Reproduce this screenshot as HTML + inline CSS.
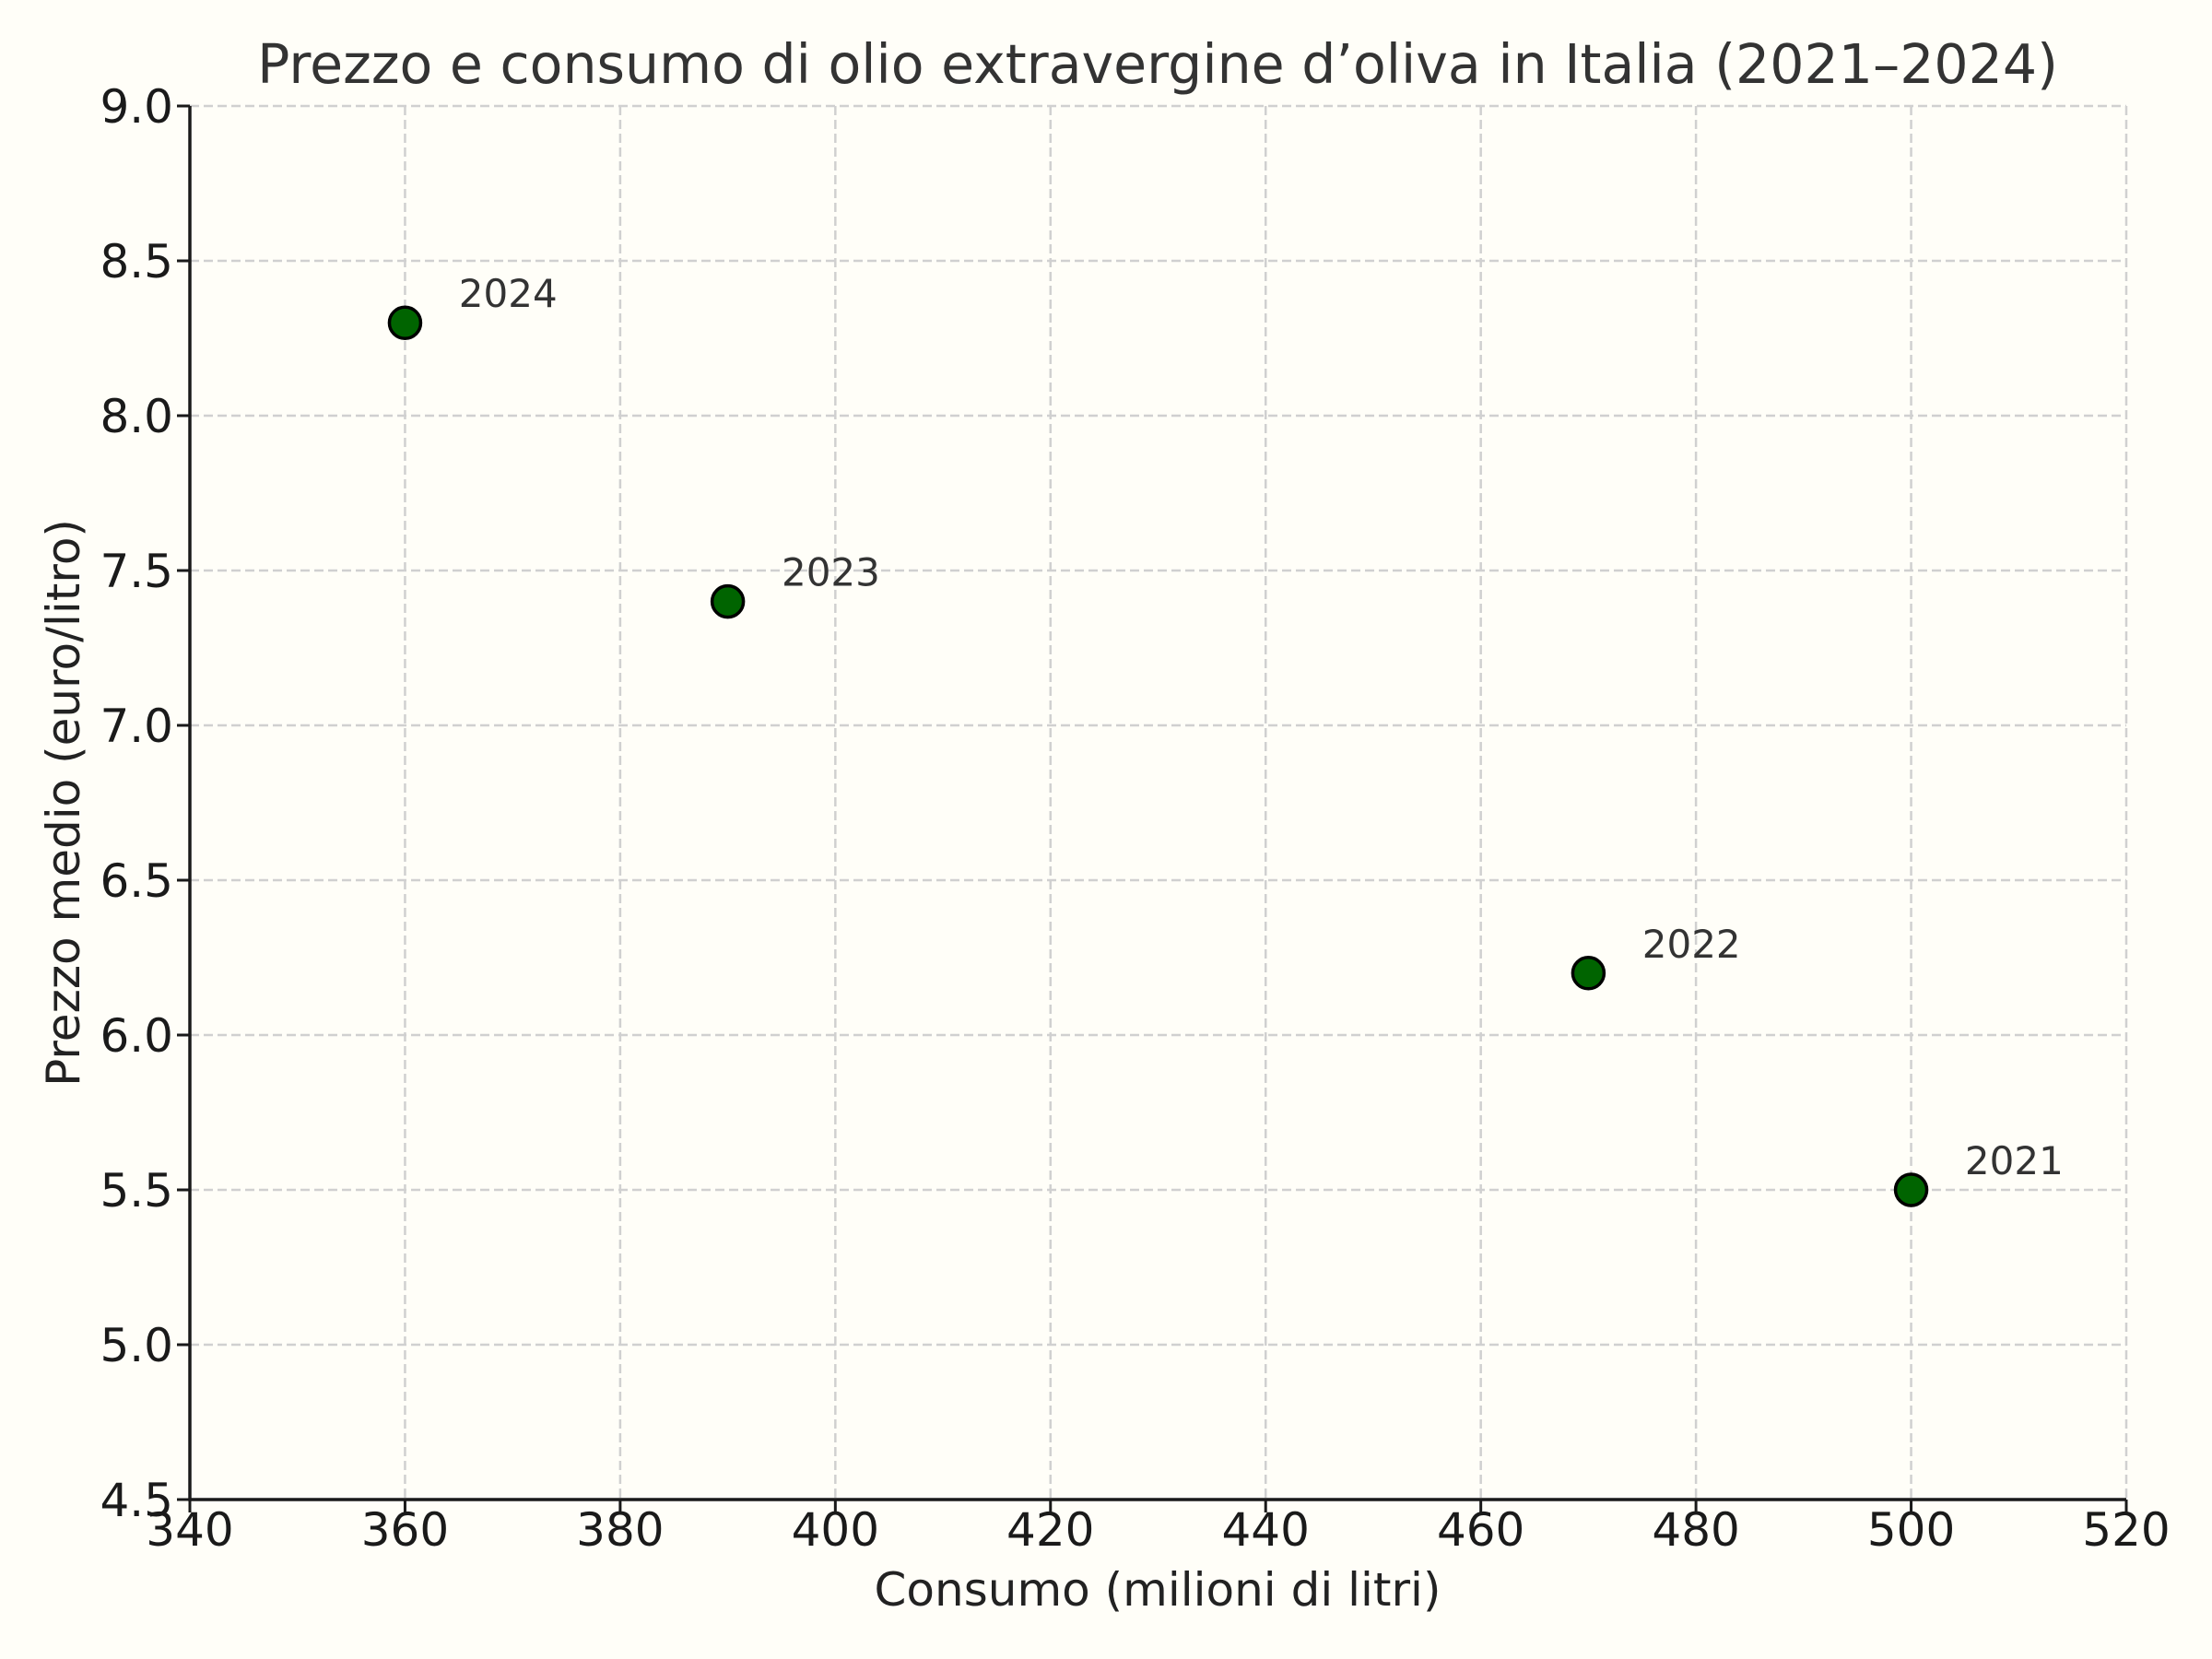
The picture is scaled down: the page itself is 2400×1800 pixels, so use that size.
<!DOCTYPE html>
<html><head><meta charset="utf-8"><style>
html,body{margin:0;padding:0;background:#fffef8;}
svg{display:block;font-family:"DejaVu Sans","Liberation Sans",sans-serif;}
</style></head><body>
<svg id="chart" width="2400" height="1800" viewBox="0 0 2400 1800" xmlns="http://www.w3.org/2000/svg">
<rect width="2400" height="1800" fill="#fffef8"/>
<g id="grid"></g>
<g id="axes"></g>
<g id="points"></g>
<text x="1256" y="90" font-size="58.5" fill="#333" text-anchor="middle">Prezzo e consumo di olio extravergine d’oliva in Italia (2021–2024)</text>
<text x="1256" y="1742" font-size="50" fill="#222" text-anchor="middle">Consumo (milioni di litri)</text>
<text x="0" y="0" font-size="50" fill="#222" text-anchor="middle" transform="translate(86,871) rotate(-90)">Prezzo medio (euro/litro)</text>
</svg>
<script>
const years = ["2021","2022","2023","2024"];
const consumo = [500, 470, 390, 360];
const prezzo = [5.5, 6.2, 7.4, 8.3];
const xTicks = [340,360,380,400,420,440,460,480,500,520];
const yTicks = [4.5,5.0,5.5,6.0,6.5,7.0,7.5,8.0,8.5,9.0];

const L=206,R=2307,T=115,B=1627;
const xMin=340,xMax=520,yMin=4.5,yMax=9.0;
const sx=v=>L+(v-xMin)/(xMax-xMin)*(R-L);
const sy=v=>B-(v-yMin)/(yMax-yMin)*(B-T);
const NS="http://www.w3.org/2000/svg";
function mk(tag,attrs,parent){const e=document.createElementNS(NS,tag);for(const k in attrs)e.setAttribute(k,attrs[k]);parent.appendChild(e);return e;}
const grid=document.getElementById('grid'),axes=document.getElementById('axes'),pts=document.getElementById('points');

xTicks.forEach(t=>{
  const x=sx(t);
  const g=mk('line',{x1:x,x2:x,y1:T,y2:B,stroke:'#d0d0d0','stroke-width':2.5,'stroke-dasharray':'10,5'},grid);
  
  
  const tk=mk('line',{x1:x,x2:x,y1:B,y2:B+14,stroke:'#1a1a1a','stroke-width':3},axes);
  
  
  const lb=mk('text',{x:x,y:1677,'font-size':50,fill:'#1a1a1a','text-anchor':'middle'},axes);
  lb.textContent=t;
  
  
});
yTicks.forEach(t=>{
  const y=sy(t);
  const g=mk('line',{x1:L,x2:R,y1:y,y2:y,stroke:'#d0d0d0','stroke-width':2.5,'stroke-dasharray':'10,5'},grid);
  
  
  const tk=mk('line',{x1:L-14,x2:L,y1:y,y2:y,stroke:'#1a1a1a','stroke-width':3},axes);
  
  
  const lb=mk('text',{x:188,y:y+18,'font-size':50,fill:'#1a1a1a','text-anchor':'end'},axes);
  lb.textContent=t.toFixed(1);
  
  
});
const ax=mk('path',{d:`M${L},${T} L${L},${B} L${R},${B}`,fill:'none',stroke:'#1a1a1a','stroke-width':3.5},axes);



years.forEach((yr,i)=>{
  const cx=sx(consumo[i]),cy=sy(prezzo[i]);
  const c=mk('circle',{cx:cx,cy:cy,r:17,fill:'#006400',stroke:'#000','stroke-width':3.5},pts);
  
  
  const t=mk('text',{x:sx(consumo[i]+5),y:cy-17,'font-size':42,fill:'#333'},pts);
  t.textContent=yr;
  
  
});
</script>
</body></html>
